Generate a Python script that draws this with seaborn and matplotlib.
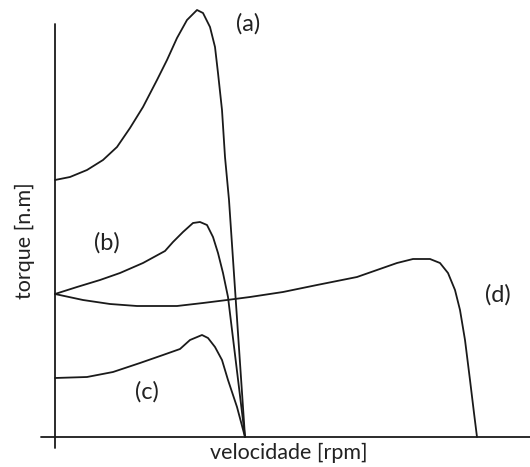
import matplotlib
matplotlib.use("Agg")
import matplotlib.pyplot as plt
import seaborn as sns
import pandas as pd

sns.set_theme(style="white")
plt.rcParams['font.family'] = ['Lato', 'DejaVu Sans']

# speed and torque values (arbitrary units)
a_speed = [0, 15, 32, 48, 62, 75, 88, 102, 112, 122, 132, 142, 148, 155, 160, 163, 167, 170, 174, 190]
a_torque = [257, 260, 267, 277, 290, 309, 330, 357, 377, 399, 417, 427, 424, 410, 390, 364, 327, 280, 237, 0]

b_speed = [0, 22, 45, 65, 88, 110, 118, 128, 138, 145, 152, 158, 163, 168, 173, 190]
b_torque = [143, 150, 157, 164, 174, 186, 195, 205, 214, 215, 212, 200, 184, 164, 140, 0]

c_speed = [0, 32, 58, 85, 108, 125, 135, 147, 153, 160, 167, 173, 182, 190]
c_torque = [59, 60, 65, 74, 82, 88, 97, 102, 99, 90, 77, 57, 30, 0]

d_speed = [0, 28, 55, 82, 122, 148, 172, 195, 228, 262, 302, 322, 342, 358, 375, 385,
           393, 400, 405, 410, 415, 419, 422]
d_torque = [143, 137, 133, 131, 131, 134, 137, 140, 145, 152, 160, 167, 174, 178, 178, 174,
            164, 147, 127, 97, 57, 24, 0]

labels = ["(a)", "(b)", "(c)", "(d)"]
label_pos_x = [193, 52, 92, 443]
label_pos_y = [413, 194, 45, 142]

frames = []
for name, sp, tq in [("a", a_speed, a_torque), ("b", b_speed, b_torque),
                     ("c", c_speed, c_torque), ("d", d_speed, d_torque)]:
    frames.append(pd.DataFrame({"speed": sp, "torque": tq, "curve": name,
                                "order": range(len(sp))}))
df = pd.concat(frames, ignore_index=True)

fig = plt.figure(figsize=(5.30, 4.67), dpi=100)
ax = fig.add_axes([0, 0, 1, 1])
ax.set_xlim(-55, 475)
ax.set_ylim(-30, 437)

for name in ["a", "b", "c", "d"]:
    sub = df[df.curve == name]
    sns.lineplot(data=sub, x="speed", y="torque", sort=False, estimator=None,
                 color="#1a1a1a", linewidth=1.3, ax=ax)

# axes lines
ax.plot([0, 0], [-11, 413], color="#1a1a1a", lw=1.3)
ax.plot([-14, 475], [0, 0], color="#1a1a1a", lw=1.3)

for t, x, y in zip(labels, label_pos_x, label_pos_y):
    ax.text(x, y, t, fontsize=17, ha="center", va="center", color="#222222")

ax.text(234, -16, "velocidade [rpm]", fontsize=15.5, ha="center", va="center", color="#222222")
ax.text(-30, 196, "torque [n.m]", fontsize=15.5, ha="center", va="center",
        rotation=90, color="#222222")

ax.set_axis_off()
fig.savefig("out.png", dpi=100)
